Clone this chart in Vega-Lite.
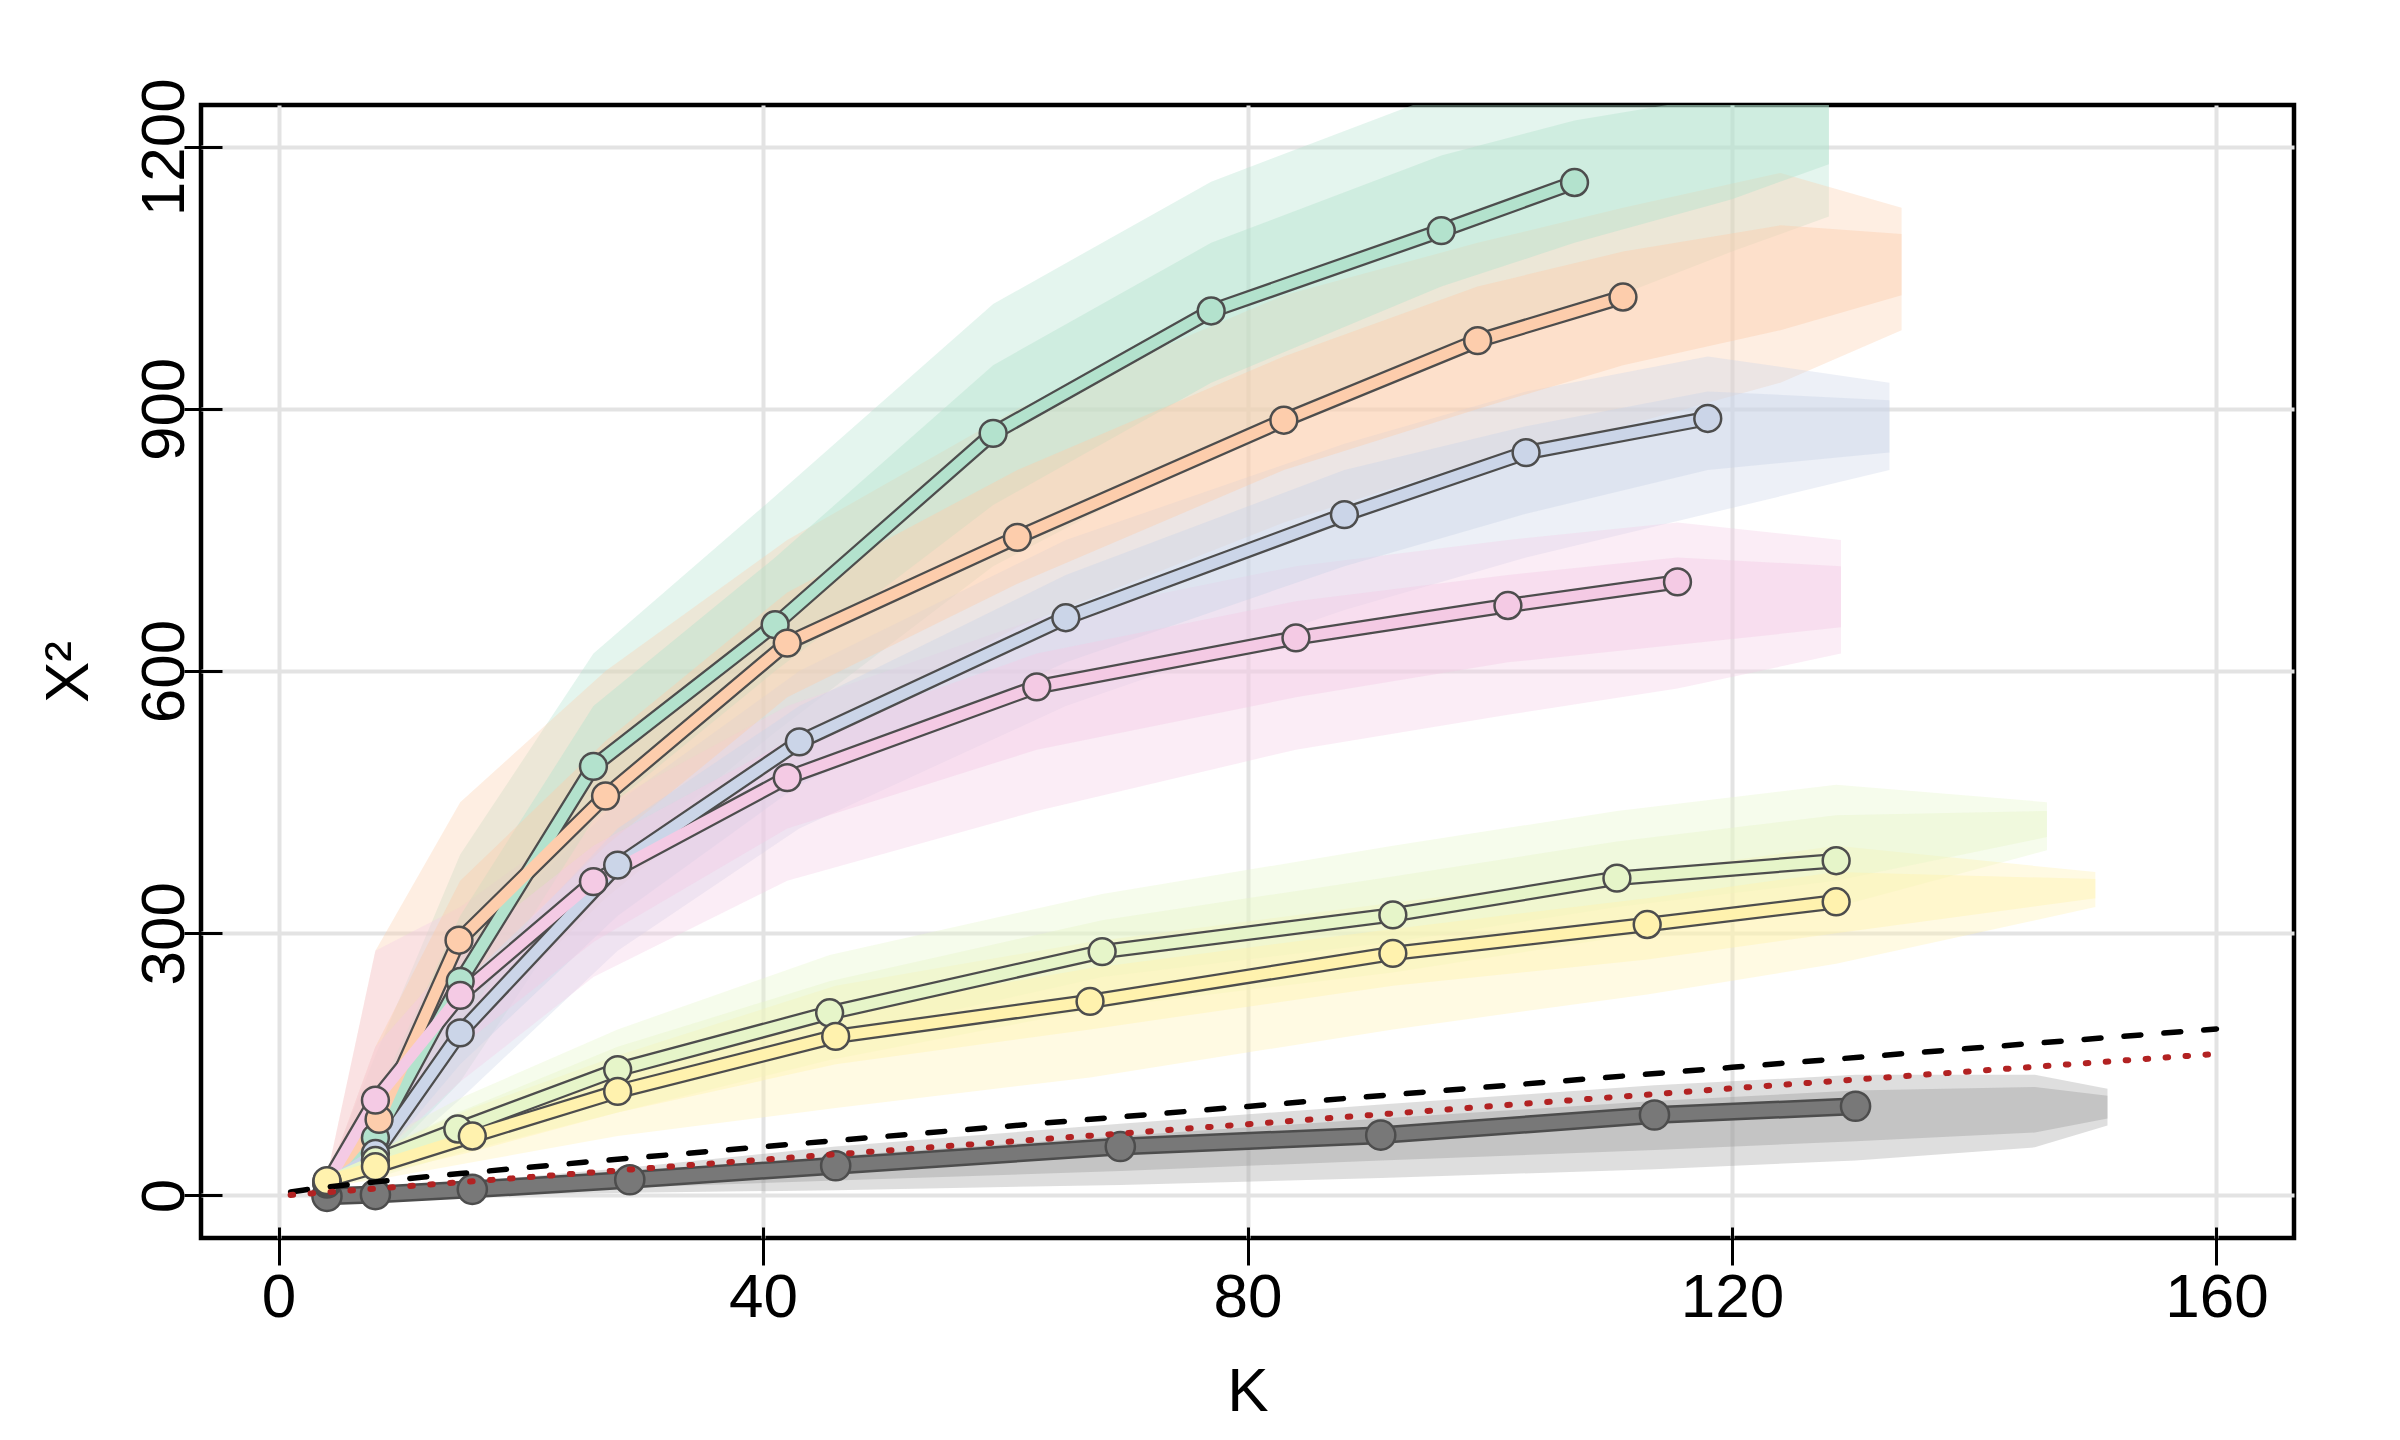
{
  "$schema": "https://vega.github.io/schema/vega-lite/v6.json",
  "width": 2093,
  "height": 1133,
  "autosize": {"type": "none"},
  "padding": {"left": 201, "top": 105, "right": 106, "bottom": 202},
  "background": "white",
  "config": {
    "view": {"stroke": "black", "strokeWidth": 4.5},
    "axis": {
      "domain": false, "grid": true, "gridColor": "#e3e3e3", "gridWidth": 4,
      "ticks": true, "tickColor": "black", "tickWidth": 3, "tickSize": 38,
      "labelFont": "Liberation Sans", "labelFontSize": 62, "labelColor": "black",
      "labelFlush": false, "labelOverlap": false, "labelBound": false,
      "titleFont": "Liberation Sans", "titleFontSize": 62, "titleFontWeight": "normal", "titleColor": "black"
    }
  },
  "datasets": {
    "main": [
      {"series": "S0", "K": 4, "X2": -1}, {"series": "S0", "K": 8, "X2": 1}, {"series": "S0", "K": 16, "X2": 7},
      {"series": "S0", "K": 29, "X2": 18}, {"series": "S0", "K": 46, "X2": 34}, {"series": "S0", "K": 69.5, "X2": 56},
      {"series": "S0", "K": 91, "X2": 69}, {"series": "S0", "K": 113.6, "X2": 92}, {"series": "S0", "K": 130.2, "X2": 102},
      {"series": "S1", "K": 4, "X2": 14}, {"series": "S1", "K": 8, "X2": 66}, {"series": "S1", "K": 15, "X2": 245},
      {"series": "S1", "K": 26, "X2": 491}, {"series": "S1", "K": 41, "X2": 653}, {"series": "S1", "K": 59, "X2": 872},
      {"series": "S1", "K": 77, "X2": 1012}, {"series": "S1", "K": 96, "X2": 1104}, {"series": "S1", "K": 107, "X2": 1159},
      {"series": "S2", "K": 4, "X2": 15}, {"series": "S2", "K": 8.3, "X2": 87}, {"series": "S2", "K": 14.9, "X2": 292},
      {"series": "S2", "K": 27, "X2": 457}, {"series": "S2", "K": 42, "X2": 632}, {"series": "S2", "K": 61, "X2": 753},
      {"series": "S2", "K": 83, "X2": 887}, {"series": "S2", "K": 99, "X2": 978}, {"series": "S2", "K": 111, "X2": 1028},
      {"series": "S3", "K": 4, "X2": 13}, {"series": "S3", "K": 8, "X2": 48}, {"series": "S3", "K": 15, "X2": 186},
      {"series": "S3", "K": 28, "X2": 378}, {"series": "S3", "K": 43, "X2": 519}, {"series": "S3", "K": 65, "X2": 661},
      {"series": "S3", "K": 88, "X2": 779}, {"series": "S3", "K": 103, "X2": 850}, {"series": "S3", "K": 118, "X2": 889},
      {"series": "S4", "K": 4, "X2": 14}, {"series": "S4", "K": 8, "X2": 109}, {"series": "S4", "K": 15, "X2": 229},
      {"series": "S4", "K": 26, "X2": 359}, {"series": "S4", "K": 42, "X2": 478}, {"series": "S4", "K": 62.6, "X2": 582},
      {"series": "S4", "K": 84, "X2": 638}, {"series": "S4", "K": 101.5, "X2": 675}, {"series": "S4", "K": 115.5, "X2": 702},
      {"series": "S5", "K": 4, "X2": 16}, {"series": "S5", "K": 8, "X2": 40}, {"series": "S5", "K": 14.8, "X2": 76},
      {"series": "S5", "K": 28, "X2": 144}, {"series": "S5", "K": 45.5, "X2": 209}, {"series": "S5", "K": 68, "X2": 279},
      {"series": "S5", "K": 92, "X2": 321}, {"series": "S5", "K": 110.5, "X2": 363}, {"series": "S5", "K": 128.6, "X2": 383},
      {"series": "S6", "K": 4, "X2": 17}, {"series": "S6", "K": 8, "X2": 33}, {"series": "S6", "K": 16, "X2": 68},
      {"series": "S6", "K": 28, "X2": 119}, {"series": "S6", "K": 46, "X2": 182}, {"series": "S6", "K": 67, "X2": 222},
      {"series": "S6", "K": 92, "X2": 277}, {"series": "S6", "K": 113, "X2": 310}, {"series": "S6", "K": 128.6, "X2": 336}
    ],
    "cloud": [
      {"series": "S0", "K": 4, "lo": -3, "hi": 3, "clo": -1, "chi": 2},
      {"series": "S0", "K": 8, "lo": -2, "hi": 7, "clo": 0, "chi": 4},
      {"series": "S0", "K": 16, "lo": 0, "hi": 16, "clo": 3, "chi": 12},
      {"series": "S0", "K": 29, "lo": 3, "hi": 32, "clo": 9, "chi": 26},
      {"series": "S0", "K": 46, "lo": 6, "hi": 56, "clo": 17, "chi": 45},
      {"series": "S0", "K": 69.5, "lo": 12, "hi": 82, "clo": 28, "chi": 68},
      {"series": "S0", "K": 91, "lo": 20, "hi": 104, "clo": 40, "chi": 88},
      {"series": "S0", "K": 113.6, "lo": 30, "hi": 126, "clo": 52, "chi": 108},
      {"series": "S0", "K": 130.2, "lo": 40, "hi": 138, "clo": 62, "chi": 120},
      {"series": "S0", "K": 145, "lo": 55, "hi": 138, "clo": 72, "chi": 124},
      {"series": "S0", "K": 151, "lo": 80, "hi": 122, "clo": 88, "chi": 114},
      {"series": "S1", "K": 4, "lo": 8, "hi": 22, "clo": 11, "chi": 18},
      {"series": "S1", "K": 8, "lo": 30, "hi": 160, "clo": 50, "chi": 110},
      {"series": "S1", "K": 15, "lo": 130, "hi": 390, "clo": 190, "chi": 320},
      {"series": "S1", "K": 26, "lo": 360, "hi": 620, "clo": 430, "chi": 560},
      {"series": "S1", "K": 41, "lo": 530, "hi": 800, "clo": 600, "chi": 730},
      {"series": "S1", "K": 59, "lo": 720, "hi": 1020, "clo": 790, "chi": 950},
      {"series": "S1", "K": 77, "lo": 850, "hi": 1160, "clo": 930, "chi": 1090},
      {"series": "S1", "K": 96, "lo": 960, "hi": 1260, "clo": 1040, "chi": 1190},
      {"series": "S1", "K": 107, "lo": 1010, "hi": 1260, "clo": 1090, "chi": 1230},
      {"series": "S1", "K": 120, "lo": 1080, "hi": 1260, "clo": 1140, "chi": 1260},
      {"series": "S1", "K": 128, "lo": 1120, "hi": 1260, "clo": 1180, "chi": 1260},
      {"series": "S2", "K": 4, "lo": 9, "hi": 22, "clo": 11, "chi": 18},
      {"series": "S2", "K": 8, "lo": 40, "hi": 280, "clo": 60, "chi": 170},
      {"series": "S2", "K": 15, "lo": 180, "hi": 450, "clo": 240, "chi": 360},
      {"series": "S2", "K": 27, "lo": 340, "hi": 600, "clo": 400, "chi": 520},
      {"series": "S2", "K": 42, "lo": 510, "hi": 750, "clo": 570, "chi": 690},
      {"series": "S2", "K": 61, "lo": 650, "hi": 900, "clo": 700, "chi": 830},
      {"series": "S2", "K": 83, "lo": 770, "hi": 1030, "clo": 830, "chi": 960},
      {"series": "S2", "K": 99, "lo": 840, "hi": 1090, "clo": 900, "chi": 1040},
      {"series": "S2", "K": 111, "lo": 880, "hi": 1130, "clo": 950, "chi": 1080},
      {"series": "S2", "K": 124, "lo": 930, "hi": 1170, "clo": 990, "chi": 1110},
      {"series": "S2", "K": 134, "lo": 990, "hi": 1130, "clo": 1030, "chi": 1100},
      {"series": "S3", "K": 4, "lo": 8, "hi": 18, "clo": 10, "chi": 16},
      {"series": "S3", "K": 8, "lo": 25, "hi": 110, "clo": 35, "chi": 80},
      {"series": "S3", "K": 15, "lo": 110, "hi": 280, "clo": 150, "chi": 230},
      {"series": "S3", "K": 28, "lo": 280, "hi": 450, "clo": 320, "chi": 420},
      {"series": "S3", "K": 43, "lo": 420, "hi": 600, "clo": 470, "chi": 560},
      {"series": "S3", "K": 65, "lo": 560, "hi": 750, "clo": 610, "chi": 710},
      {"series": "S3", "K": 88, "lo": 670, "hi": 860, "clo": 720, "chi": 830},
      {"series": "S3", "K": 103, "lo": 730, "hi": 920, "clo": 780, "chi": 880},
      {"series": "S3", "K": 118, "lo": 780, "hi": 960, "clo": 830, "chi": 920},
      {"series": "S3", "K": 133, "lo": 830, "hi": 930, "clo": 850, "chi": 910},
      {"series": "S4", "K": 4, "lo": 8, "hi": 22, "clo": 11, "chi": 18},
      {"series": "S4", "K": 8, "lo": 40, "hi": 280, "clo": 70, "chi": 170},
      {"series": "S4", "K": 15, "lo": 130, "hi": 330, "clo": 170, "chi": 280},
      {"series": "S4", "K": 26, "lo": 250, "hi": 440, "clo": 290, "chi": 400},
      {"series": "S4", "K": 42, "lo": 360, "hi": 560, "clo": 420, "chi": 520},
      {"series": "S4", "K": 62.6, "lo": 440, "hi": 660, "clo": 510, "chi": 620},
      {"series": "S4", "K": 84, "lo": 510, "hi": 720, "clo": 570, "chi": 680},
      {"series": "S4", "K": 101.5, "lo": 550, "hi": 750, "clo": 610, "chi": 710},
      {"series": "S4", "K": 115.5, "lo": 580, "hi": 770, "clo": 630, "chi": 730},
      {"series": "S4", "K": 129, "lo": 620, "hi": 750, "clo": 650, "chi": 720},
      {"series": "S5", "K": 4, "lo": 10, "hi": 20, "clo": 12, "chi": 18},
      {"series": "S5", "K": 8, "lo": 20, "hi": 60, "clo": 28, "chi": 50},
      {"series": "S5", "K": 14.8, "lo": 48, "hi": 110, "clo": 60, "chi": 95},
      {"series": "S5", "K": 28, "lo": 95, "hi": 190, "clo": 120, "chi": 170},
      {"series": "S5", "K": 45.5, "lo": 155, "hi": 275, "clo": 180, "chi": 245},
      {"series": "S5", "K": 68, "lo": 215, "hi": 345, "clo": 250, "chi": 315},
      {"series": "S5", "K": 92, "lo": 255, "hi": 400, "clo": 290, "chi": 365},
      {"series": "S5", "K": 110.5, "lo": 295, "hi": 440, "clo": 330, "chi": 405},
      {"series": "S5", "K": 128.6, "lo": 330, "hi": 470, "clo": 360, "chi": 435},
      {"series": "S5", "K": 146, "lo": 395, "hi": 450, "clo": 410, "chi": 440},
      {"series": "S6", "K": 4, "lo": 10, "hi": 20, "clo": 12, "chi": 18},
      {"series": "S6", "K": 8, "lo": 18, "hi": 50, "clo": 24, "chi": 42},
      {"series": "S6", "K": 16, "lo": 38, "hi": 100, "clo": 50, "chi": 85},
      {"series": "S6", "K": 28, "lo": 68, "hi": 160, "clo": 95, "chi": 140},
      {"series": "S6", "K": 46, "lo": 100, "hi": 240, "clo": 150, "chi": 210},
      {"series": "S6", "K": 67, "lo": 135, "hi": 290, "clo": 190, "chi": 260},
      {"series": "S6", "K": 92, "lo": 190, "hi": 335, "clo": 240, "chi": 305},
      {"series": "S6", "K": 113, "lo": 230, "hi": 370, "clo": 270, "chi": 340},
      {"series": "S6", "K": 128.6, "lo": 265, "hi": 400, "clo": 300, "chi": 370},
      {"series": "S6", "K": 150, "lo": 330, "hi": 370, "clo": 340, "chi": 362}
    ],
    "q95": [
      {"K": 1, "X2": 3.84}, {"K": 2, "X2": 5.99}, {"K": 3, "X2": 7.81}, {"K": 4, "X2": 9.49},
      {"K": 5, "X2": 11.07}, {"K": 6, "X2": 12.59}, {"K": 8, "X2": 15.51}, {"K": 10, "X2": 18.31},
      {"K": 12, "X2": 21.03}, {"K": 15, "X2": 25.0}, {"K": 20, "X2": 31.41}, {"K": 25, "X2": 37.65},
      {"K": 30, "X2": 43.77}, {"K": 40, "X2": 55.76}, {"K": 50, "X2": 67.5}, {"K": 60, "X2": 79.08},
      {"K": 80, "X2": 101.88}, {"K": 100, "X2": 124.34}, {"K": 120, "X2": 146.57}, {"K": 140, "X2": 168.61},
      {"K": 160, "X2": 190.52}
    ],
    "mean": [
      {"K": 1, "X2": 0.5}, {"K": 40, "X2": 41}, {"K": 80, "X2": 81.5}, {"K": 120, "X2": 122.5}, {"K": 160, "X2": 162}
    ]
  },
  "encoding": {
    "x": {"field": "K", "type": "quantitative", "scale": {"domain": [-6.4, 166.4], "nice": false, "zero": false},
      "axis": {"values": [0, 40, 80, 120, 160], "format": "d", "title": "K", "offset": -11, "labelPadding": 2, "labelAngle": 0,
        "labelAlign": "center", "labelBaseline": "top", "titleX": 1046.5, "titleY": 183, "titleAlign": "center", "titleBaseline": "alphabetic", "titleAngle": 0}},
    "y": {"field": "X2", "type": "quantitative", "scale": {"domain": [-48.7, 1247.7], "nice": false, "zero": false},
      "axis": {"values": [0, 300, 600, 900, 1200], "format": "d", "title": "X²", "offset": -21, "labelPadding": 1, "labelAngle": -90,
        "labelAlign": "center", "labelBaseline": "alphabetic", "titleX": -135, "titleY": 566.5, "titleAngle": -90, "titleAlign": "center", "titleBaseline": "alphabetic"}}
  },
  "resolve": {"scale": {"color": "independent"}},
  "layer": [
    {
      "data": {"name": "cloud"},
      "mark": {"type": "area", "clip": true, "opacity": 0.35},
      "encoding": {
        "y": {"field": "lo", "type": "quantitative", "scale": {"domain": [-48.7, 1247.7], "nice": false, "zero": false},
          "axis": {"values": [0, 300, 600, 900, 1200], "format": "d", "title": "X²", "offset": -21, "labelPadding": 1, "labelAngle": -90,
            "labelAlign": "center", "labelBaseline": "alphabetic", "titleX": -135, "titleY": 566.5, "titleAngle": -90, "titleAlign": "center", "titleBaseline": "alphabetic"}},
        "y2": {"field": "hi"},
        "color": {"field": "series", "type": "nominal", "legend": null,
          "scale": {"domain": ["S0", "S1", "S2", "S3", "S4", "S5", "S6"], "range": ["#a0a0a0", "#b3e2cd", "#fdcdac", "#cbd5e8", "#f4cae4", "#e6f5c9", "#fff2ae"]}}
      }
    },
    {
      "data": {"name": "cloud"},
      "mark": {"type": "area", "clip": true, "opacity": 0.42},
      "encoding": {
        "y": {"field": "clo", "type": "quantitative", "scale": {"domain": [-48.7, 1247.7], "nice": false, "zero": false},
          "axis": {"values": [0, 300, 600, 900, 1200], "format": "d", "title": "X²", "offset": -21, "labelPadding": 1, "labelAngle": -90,
            "labelAlign": "center", "labelBaseline": "alphabetic", "titleX": -135, "titleY": 566.5, "titleAngle": -90, "titleAlign": "center", "titleBaseline": "alphabetic"}},
        "y2": {"field": "chi"},
        "color": {"field": "series", "type": "nominal", "legend": null,
          "scale": {"domain": ["S0", "S1", "S2", "S3", "S4", "S5", "S6"], "range": ["#a0a0a0", "#b3e2cd", "#fdcdac", "#cbd5e8", "#f4cae4", "#e6f5c9", "#fff2ae"]}}
      }
    },
    {
      "data": {"name": "main"},
      "transform": [{"filter": "datum.series === 'S0'"}],
      "mark": {"type": "line", "color": "#4d4d4d", "strokeWidth": 18, "strokeCap": "round", "strokeJoin": "round"}
    },
    {
      "data": {"name": "main"},
      "transform": [{"filter": "datum.series === 'S0'"}],
      "mark": {"type": "line", "color": "#787878", "strokeWidth": 13, "strokeCap": "round", "strokeJoin": "round"}
    },
    {
      "data": {"name": "main"},
      "transform": [{"filter": "datum.series !== 'S0'"}],
      "mark": {"type": "line", "color": "#4d4d4d", "strokeWidth": 15.5, "strokeCap": "round", "strokeJoin": "round"},
      "encoding": {"detail": {"field": "series", "type": "nominal"}}
    },
    {
      "data": {"name": "main"},
      "transform": [{"filter": "datum.series !== 'S0'"}],
      "mark": {"type": "line", "strokeWidth": 11, "strokeCap": "round", "strokeJoin": "round", "opacity": 1},
      "encoding": {
        "color": {"field": "series", "type": "nominal", "legend": null,
          "scale": {"domain": ["S1", "S2", "S3", "S4", "S5", "S6"], "range": ["#b3e2cd", "#fdcdac", "#cbd5e8", "#f4cae4", "#e6f5c9", "#fff2ae"]}}
      }
    },
    {
      "data": {"name": "main"},
      "mark": {"type": "point", "shape": "circle", "filled": true, "stroke": "#4d4d4d", "strokeWidth": 2.5, "opacity": 1},
      "encoding": {
        "fill": {"field": "series", "type": "nominal", "legend": null,
          "scale": {"domain": ["S0", "S1", "S2", "S3", "S4", "S5", "S6"], "range": ["#787878", "#b3e2cd", "#fdcdac", "#cbd5e8", "#f4cae4", "#e6f5c9", "#fff2ae"]}},
        "size": {"condition": {"test": "datum.series === 'S0'", "value": 850}, "value": 720}
      }
    },
    {
      "data": {"name": "q95"},
      "mark": {"type": "line", "color": "black", "strokeWidth": 5.5, "strokeDash": [17, 23], "strokeCap": "round"}
    },
    {
      "data": {"name": "mean"},
      "mark": {"type": "line", "color": "#b22222", "strokeWidth": 6, "strokeDash": [2.5, 17.5], "strokeCap": "round"}
    }
  ]
}
